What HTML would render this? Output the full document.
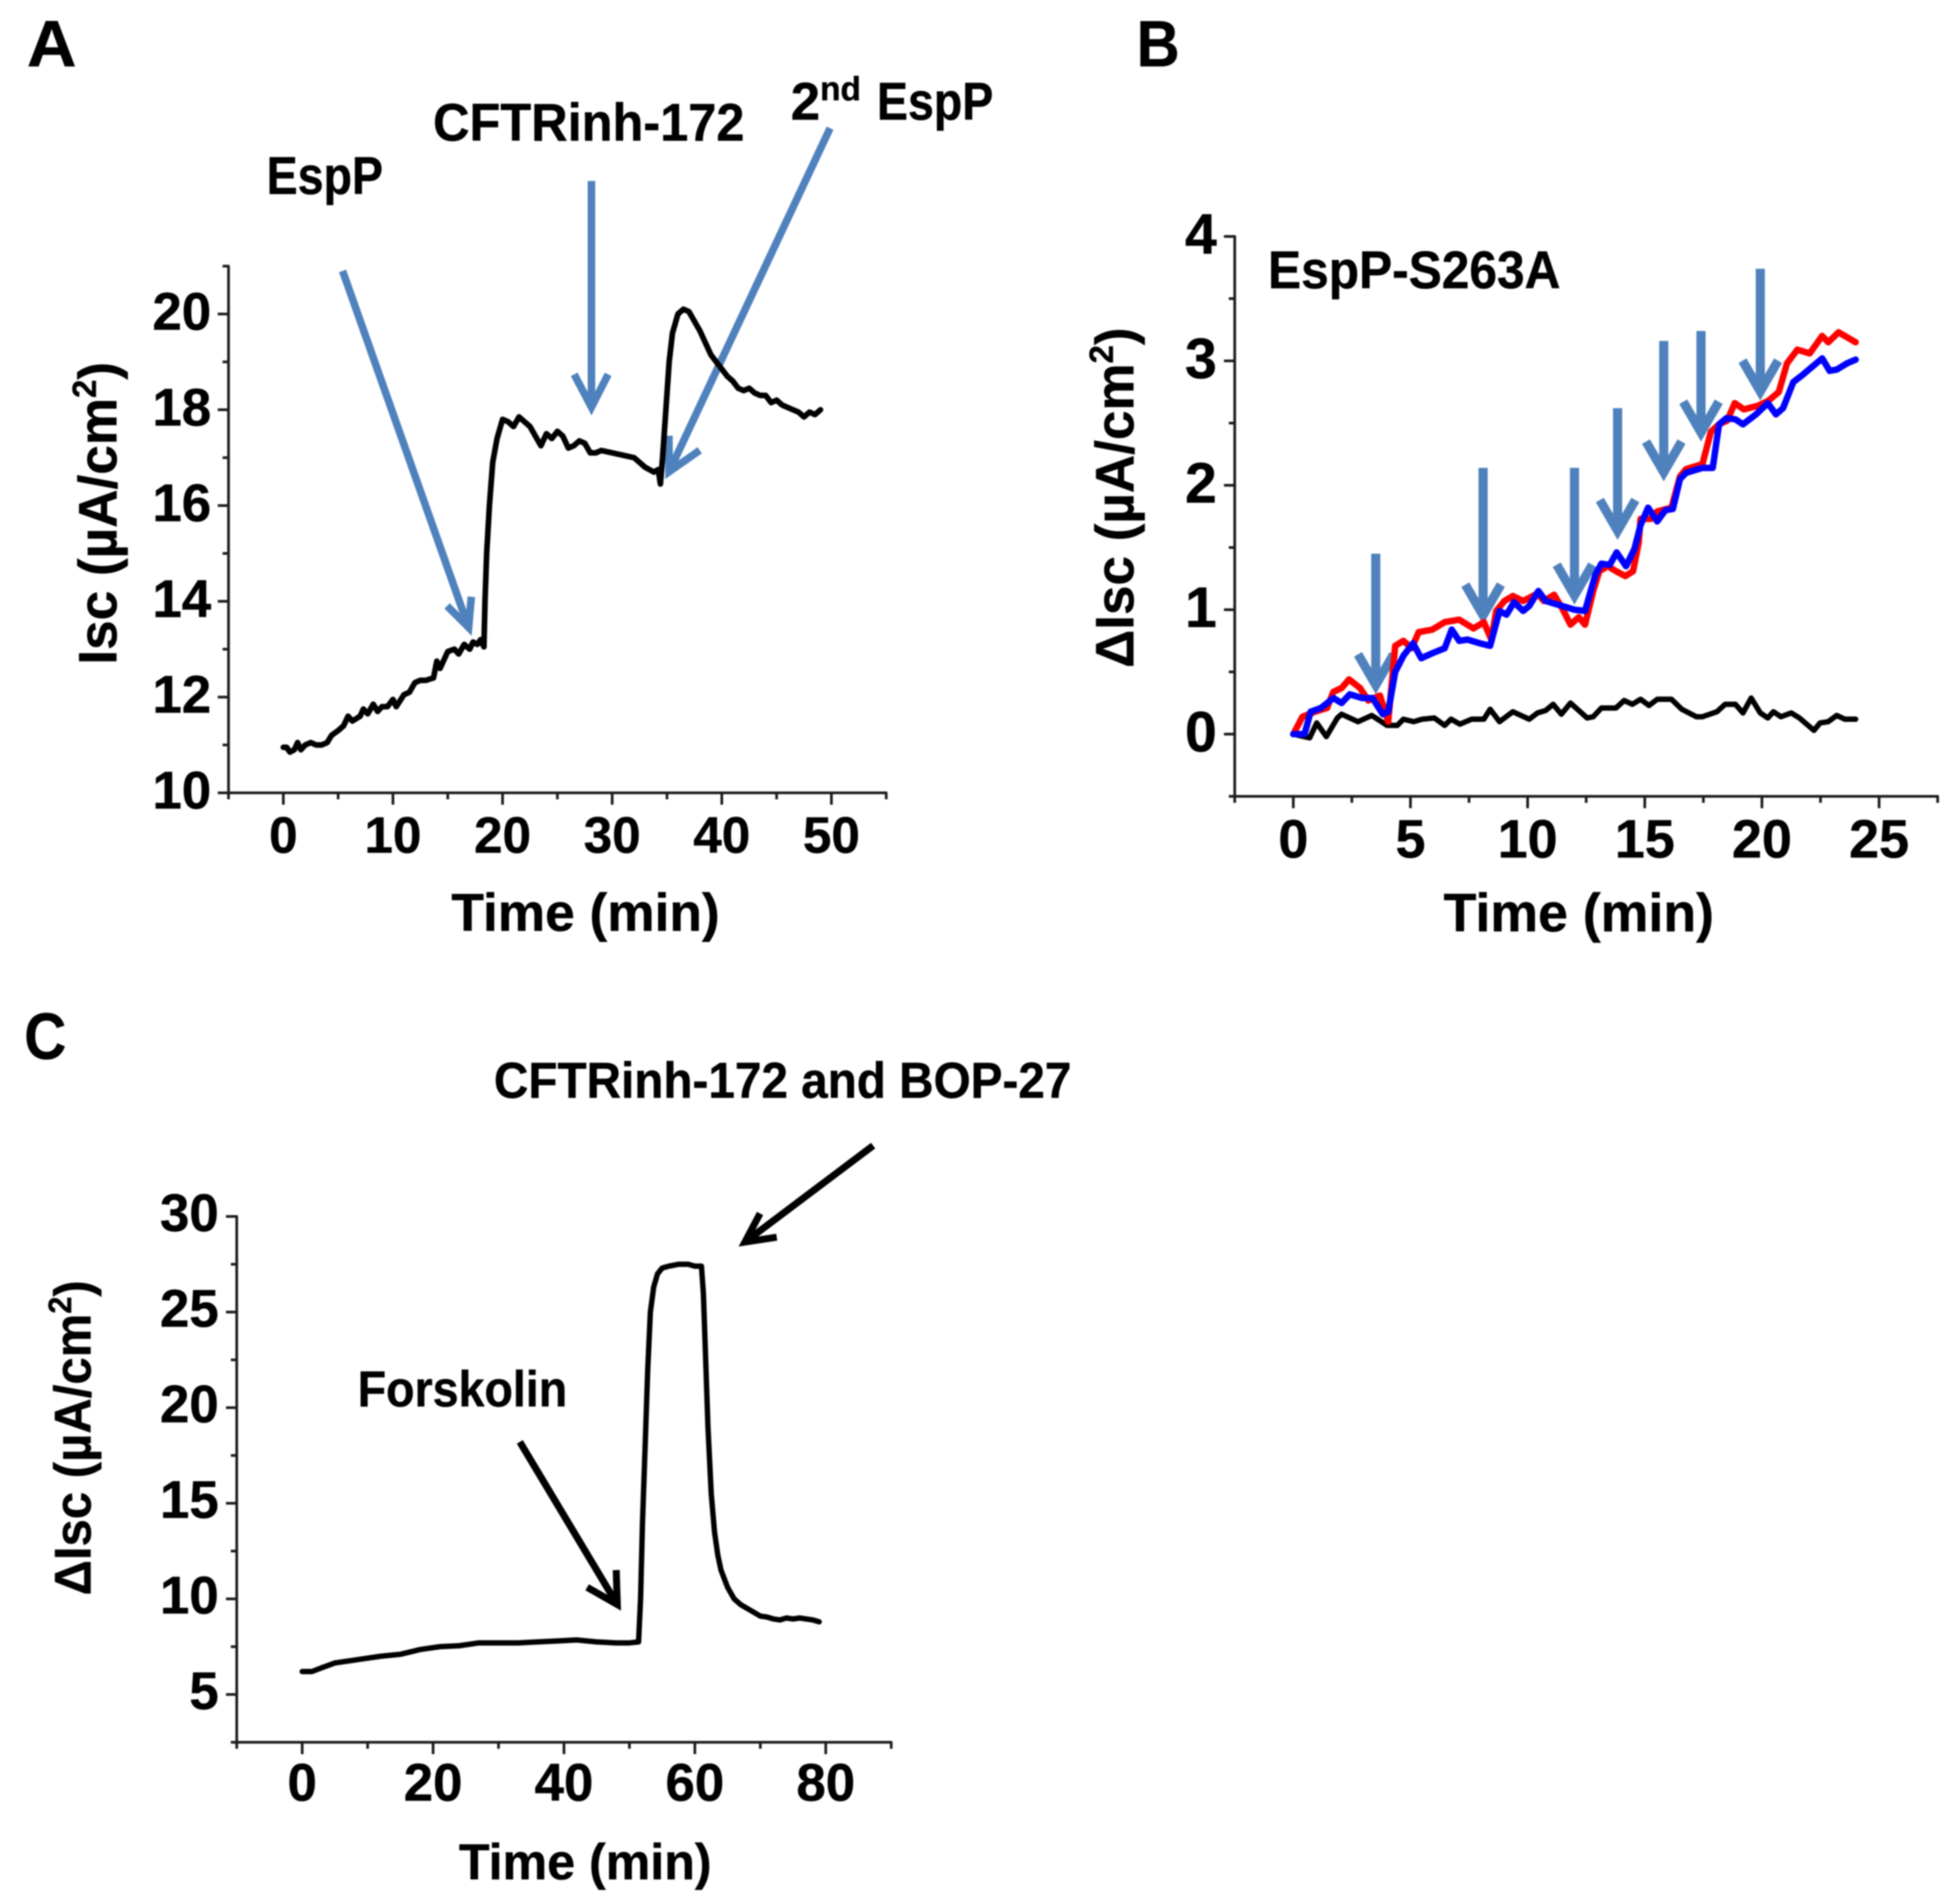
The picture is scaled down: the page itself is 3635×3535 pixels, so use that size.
<!DOCTYPE html>
<html lang="en">
<head>
<meta charset="utf-8">
<title>Isc time-course panels A, B and C</title>
<style>
html,body{margin:0;padding:0;background:#fff;width:3635px;height:3535px;overflow:hidden}
svg{display:block;filter:blur(1.3px)}
text{font-family:"Liberation Sans",sans-serif;font-weight:bold;fill:#000;stroke:#000;stroke-width:0.8px}
</style>
</head>
<body>
<svg id="figure" xmlns="http://www.w3.org/2000/svg" width="3635" height="3535" viewBox="0 0 3635 3535">
  <rect x="0" y="0" width="3635" height="3535" fill="#ffffff"/>

  <!-- Panel A -->
  <g id="panelA">
    <text x="50" y="123" font-size="122" textLength="92" lengthAdjust="spacingAndGlyphs">A</text>
    <text x="495" y="360" font-size="98" textLength="216" lengthAdjust="spacingAndGlyphs">EspP</text>
    <text x="804" y="261" font-size="98" textLength="578" lengthAdjust="spacingAndGlyphs">CFTRinh-172</text>
    <text x="1468" y="222" font-size="98">2<tspan font-size="62" dy="-36">nd</tspan><tspan x="1628" dy="36" textLength="216" lengthAdjust="spacingAndGlyphs">EspP</tspan></text>
    <path d="M636 503L870 1165M830 1125L870 1165L875 1108" fill="none" stroke="#4f81bd" stroke-width="14"/>
    <path d="M1098 336L1098 756M1066 695L1098 756L1129 695" fill="none" stroke="#4f81bd" stroke-width="14"/>
    <path d="M1541 238L1242 876M1242 809L1242 876L1299 836" fill="none" stroke="#4f81bd" stroke-width="14"/>
    <text transform="translate(216 1234) rotate(-90)" font-size="100" textLength="562" lengthAdjust="spacingAndGlyphs">Isc (µA/cm<tspan font-size="62" dy="-38">2</tspan><tspan dy="38">)</tspan></text>
    <text x="838" y="1728" font-size="98" textLength="498" lengthAdjust="spacingAndGlyphs">Time (min)</text>
  </g>

  <!-- Panel B -->
  <g id="panelB">
    <text x="2110" y="123" font-size="122" textLength="80" lengthAdjust="spacingAndGlyphs">B</text>
    <text x="2354" y="535" font-size="98" textLength="543" lengthAdjust="spacingAndGlyphs">EspP-S263A</text>
    <text transform="translate(2104 1240) rotate(-90)" font-size="100" textLength="632" lengthAdjust="spacingAndGlyphs">ΔIsc (µA/cm<tspan font-size="62" dy="-38">2</tspan><tspan dy="38">)</tspan></text>
    <text x="2680" y="1729" font-size="100" textLength="502" lengthAdjust="spacingAndGlyphs">Time (min)</text>
  </g>

  <!-- Panel C -->
  <g id="panelC">
    <text x="45" y="1966" font-size="122" textLength="78" lengthAdjust="spacingAndGlyphs">C</text>
    <text x="917" y="2038" font-size="94" textLength="1072" lengthAdjust="spacingAndGlyphs">CFTRinh-172 and BOP-27</text>
    <path d="M1621 2127L1383 2306M1411 2253L1383 2306L1442 2297" fill="none" stroke="#000" stroke-width="13"/>
    <text x="664" y="2611" font-size="94" textLength="389" lengthAdjust="spacingAndGlyphs">Forskolin</text>
    <path d="M965 2677L1146 2979M1144 2915L1146 2979L1090 2947" fill="none" stroke="#000" stroke-width="13"/>
    <text transform="translate(168 2962) rotate(-90)" font-size="96" textLength="585" lengthAdjust="spacingAndGlyphs">ΔIsc (µA/cm<tspan font-size="60" dy="-36">2</tspan><tspan dy="36">)</tspan></text>
    <text x="852" y="3489" font-size="94" textLength="469" lengthAdjust="spacingAndGlyphs">Time (min)</text>
  </g>
</svg>

<script>
// ---------- Panel A data ----------
const aTimes = [0,0.3,0.6,1,1.3,1.6,2,2.5,3,3.5,4,4.4,5,5.5,5.9,6.3,7,7.3,7.7,8.2,8.6,9,9.5,10,10.3,11,11.5,12,12.5,13,13.7,14,14.3,14.7,15,15.6,16,16.5,17,17.3,17.7,18,18.3,18.4,18.55,18.8,19.1,19.5,20,20.5,21,21.5,22,22.5,23,23.5,24,24.5,25,25.5,26,26.5,27,27.5,28,28.5,29,30,31,32,33,33.8,34.2,34.4,34.6,34.9,35.2,35.5,36,36.5,37,37.5,38,38.5,39,39.5,40,40.5,41,41.5,42,42.5,43,43.5,44,44.5,45,45.5,46,46.5,47,47.5,48,48.5,49];
const aIsc = [10.95,10.95,10.85,10.9,11.05,10.9,11,11.05,11,11,11.05,11.2,11.3,11.4,11.6,11.5,11.6,11.75,11.65,11.85,11.7,11.8,11.8,11.95,11.8,12.05,12.1,12.3,12.35,12.35,12.4,12.75,12.6,12.8,12.95,13,12.9,13.1,13,13.15,13.1,13.2,13.05,14,15,16,16.9,17.4,17.8,17.75,17.65,17.85,17.75,17.65,17.45,17.25,17.5,17.4,17.55,17.45,17.2,17.25,17.35,17.3,17.1,17.1,17.15,17.1,17.05,17,16.8,16.7,16.75,16.45,17,18,19,19.6,20,20.1,20.05,19.85,19.65,19.4,19.15,19,18.85,18.7,18.6,18.45,18.4,18.45,18.35,18.3,18.3,18.15,18.2,18.1,18.05,18,17.95,17.85,17.95,17.9,18];
const aXMajor = [0,10,20,30,40,50];
const aXMinor = [-5,5,15,25,35,45,55];
const aYMajor = [10,12,14,16,18,20];
const aYMinor = [11,13,15,17,19,21];

// ---------- Panel B data ----------
const bBlueTimes = [0,0.48,0.74,1.18,1.71,2.06,2.41,2.94,3.38,3.82,4.05,4.35,4.7,5.11,5.46,5.93,6.46,6.76,7.08,7.43,7.96,8.4,8.8,9.1,9.42,9.81,10.07,10.46,10.77,11.48,12,12.45,12.89,13.15,13.5,13.8,14.2,14.56,14.82,15.14,15.53,15.88,16.2,16.5,16.76,17.46,17.9,18.17,18.49,18.87,19.19,19.75,20.25,20.6,20.9,21.34,21.69,22.57,22.89,23.19,23.63,24];
const bBlueValues = [0,0,0.18,0.21,0.29,0.25,0.32,0.29,0.29,0.16,0.18,0.5,0.63,0.73,0.61,0.65,0.69,0.84,0.75,0.76,0.73,0.71,0.99,0.96,1.06,0.99,1.03,1.15,1.07,1.03,1,0.99,1.28,1.37,1.36,1.46,1.35,1.49,1.68,1.82,1.71,1.8,1.81,2.05,2.1,2.14,2.14,2.49,2.54,2.53,2.49,2.57,2.66,2.57,2.62,2.83,2.88,3.02,2.92,2.93,2.98,3.01];
const bRedTimes = [0,0.39,0.92,1.44,1.71,2.06,2.38,2.85,3.2,3.7,4.05,4.35,4.7,5.05,5.35,5.93,6.46,7.08,7.69,8.13,8.45,8.66,9.01,9.37,9.81,10.42,10.69,11.13,11.48,11.83,12.18,12.45,12.8,13.06,13.42,13.77,14.17,14.5,14.74,14.82,15.26,15.53,16.14,16.5,16.76,17.46,17.82,18.17,18.52,18.84,19.23,19.84,20.28,20.72,21.07,21.51,22.04,22.57,22.83,23.27,24];
const bRedValues = [0,0.14,0.18,0.21,0.34,0.37,0.44,0.37,0.27,0.31,0.1,0.71,0.75,0.69,0.82,0.84,0.9,0.92,0.85,0.9,0.76,0.99,1.07,1.11,1.07,1.13,1.07,1.12,1.01,0.88,0.94,0.88,1.15,1.31,1.35,1.31,1.27,1.31,1.54,1.73,1.73,1.79,1.82,2.07,2.13,2.17,2.43,2.49,2.52,2.66,2.61,2.64,2.68,2.75,2.98,3.09,3.06,3.2,3.15,3.23,3.15];
const bBlackTimes = [0,0.7,1,1.41,1.88,2.06,2.76,3.35,4,4.44,4.7,5.14,5.49,6.02,6.46,6.73,7.11,7.61,8.13,8.4,8.8,9.37,10.07,10.42,10.77,11.09,11.44,11.83,12.54,12.8,13.15,13.77,14.12,14.47,14.82,15.18,15.53,16.14,16.58,17.2,17.46,18.08,18.43,18.87,19.19,19.54,19.93,20.25,20.49,20.81,21.25,21.6,22.22,22.48,22.83,23.19,23.54,24];
const bBlackValues = [0,-0.03,0.09,-0.02,0.13,0.16,0.1,0.15,0.07,0.07,0.12,0.1,0.12,0.13,0.07,0.12,0.08,0.12,0.12,0.2,0.1,0.18,0.12,0.17,0.19,0.24,0.16,0.25,0.13,0.14,0.21,0.21,0.27,0.24,0.28,0.23,0.28,0.28,0.2,0.14,0.14,0.18,0.24,0.24,0.17,0.29,0.17,0.13,0.18,0.14,0.17,0.13,0.03,0.09,0.1,0.15,0.12,0.12];
const bArrowTimes = [3.52,8.1,12,13.84,15.81,17.4,19.93];
const bArrowTips = [0.36,0.92,1.08,1.6,2.07,2.39,2.72];
const bArrowTails = [1.45,2.14,2.14,2.62,3.16,3.24,3.74];
const bXMajor = [0,5,10,15,20,25];
const bXMinor = [-2.5,2.5,7.5,12.5,17.5,22.5,27.5];
const bYMajor = [0,1,2,3,4];
const bYMinor = [-0.5,0.5,1.5,2.5,3.5];

// ---------- Panel C data ----------
const cTimes = [0,1.5,3,5,7,9,12,15,18,21,24,27,30,33,36,39,42,45,48,50,51.4,51.7,52,52.4,52.8,53.2,53.7,54.3,55,56,57.5,59,60,61,61.3,61.7,62,62.5,63,63.5,64,65,66,67,68,69,70,71,72,73,74,75,76,77,78,79];
const cValues = [6.2,6.2,6.4,6.65,6.75,6.85,7,7.1,7.35,7.5,7.55,7.7,7.7,7.7,7.75,7.8,7.85,7.75,7.7,7.7,7.75,10,14,18,22,25,26.3,27,27.3,27.4,27.5,27.5,27.4,27.4,26,22,19,15.5,13.5,12.3,11.5,10.6,10,9.7,9.5,9.3,9.1,9.05,8.95,8.9,9,8.95,9,8.95,8.9,8.8];
const cXMajor = [0,20,40,60,80];
const cXMinor = [-10,10,30,50,70,90];
const cYMajor = [5,10,15,20,25,30];
const cYMinor = [2.5,7.5,12.5,17.5,22.5,27.5];

// ---------- Scales ----------
const xA = t => 526 + t * 20.35;
const yA = v => 1472 - (v - 10) * 88.9;
const xB = t => 2401 + t * 43.5;
const yB = v => 1363 - v * 231;
const xC = t => 561 + t * 12.15;
const yC = v => 3146 - (v - 5) * 35.5;

const NS = 'http://www.w3.org/2000/svg';
const AXIS_COLOR = '#1c1c1c';

function makeLine(parent, x1, y1, x2, y2, width, color) {
  const el = document.createElementNS(NS, 'line');
  el.setAttribute('x1', x1);
  el.setAttribute('y1', y1);
  el.setAttribute('x2', x2);
  el.setAttribute('y2', y2);
  el.setAttribute('stroke', color);
  el.setAttribute('stroke-width', width);
  parent.appendChild(el);
  return el;
}

function makeText(parent, x, y, size, anchor, content) {
  const el = document.createElementNS(NS, 'text');
  el.setAttribute('x', x);
  el.setAttribute('y', y);
  el.setAttribute('font-size', size);
  el.setAttribute('text-anchor', anchor);
  el.textContent = content;
  parent.appendChild(el);
  return el;
}

function makeSeries(parent, xs, ys, sx, sy, width, color) {
  const el = document.createElementNS(NS, 'polyline');
  el.setAttribute('points', xs.map((t, i) => sx(t).toFixed(1) + ',' + sy(ys[i]).toFixed(1)).join(' '));
  el.setAttribute('fill', 'none');
  el.setAttribute('stroke', color);
  el.setAttribute('stroke-width', width);
  el.setAttribute('stroke-linejoin', 'round');
  el.setAttribute('stroke-linecap', 'round');
  parent.appendChild(el);
  return el;
}

function drawAxes(parent, suffix, sx, sy, xMajor, xMinor, yMajor, yMinor, opts) {
  const allX = xMajor.concat(xMinor);
  const allY = yMajor.concat(yMinor);
  const x0 = sx(Math.min(...allX));
  const x1 = sx(Math.max(...allX));
  const y0 = sy(Math.min(...allY));
  const y1 = sy(Math.max(...allY));

  const xAxis = makeLine(parent, x0 - 2, y0, x1 + 2, y0, 5, AXIS_COLOR);
  
  

  const yAxis = makeLine(parent, x0, y0 + 2, x0, y1 - 2, 5, AXIS_COLOR);
  
  

  xMajor.forEach(function (t) {
    const tick = makeLine(parent, sx(t), y0, sx(t), y0 + 22, 5, AXIS_COLOR);
    
    
    const label = makeText(parent, sx(t), opts.xLabelY, opts.xSize, 'middle', String(t));
    
    
  });
  xMinor.forEach(function (t) {
    const tick = makeLine(parent, sx(t), y0, sx(t), y0 + 12, 5, AXIS_COLOR);
    
    
  });
  yMajor.forEach(function (v) {
    const tick = makeLine(parent, x0 - 20, sy(v), x0, sy(v), 5, AXIS_COLOR);
    
    
    const label = makeText(parent, opts.yLabelX, sy(v) + opts.yLabelDy, opts.ySize, 'end', String(v));
    
    
  });
  yMinor.forEach(function (v) {
    const tick = makeLine(parent, x0 - 11, sy(v), x0, sy(v), 5, AXIS_COLOR);
    
    
  });
}

const groupA = document.getElementById('panelA');
const groupB = document.getElementById('panelB');
const groupC = document.getElementById('panelC');

// ---------- Panel A ----------
drawAxes(groupA, 'a', xA, yA, aXMajor, aXMinor, aYMajor, aYMinor,
  { xLabelY: 1583, xSize: 95, yLabelX: 392, yLabelDy: 29, ySize: 98 });
const traceA = makeSeries(groupA, aTimes, aIsc, xA, yA, 10.5, '#000000');



// ---------- Panel B ----------
drawAxes(groupB, 'b', xB, yB, bXMajor, bXMinor, bYMajor, bYMinor,
  { xLabelY: 1592, xSize: 100, yLabelX: 2259, yLabelDy: 32, ySize: 106 });

bArrowTimes.forEach(function (t, i) {
  const px = xB(t);
  const tipY = yB(bArrowTips[i]);
  const tailY = yB(bArrowTails[i]);
  const arrow = document.createElementNS(NS, 'path');
  arrow.setAttribute('d', 'M' + px + ' ' + tailY + 'L' + px + ' ' + (tipY - 8) +
    'M' + (px - 33) + ' ' + (tipY - 65) + 'L' + px + ' ' + (tipY - 8) + 'L' + (px + 33) + ' ' + (tipY - 65));
  arrow.setAttribute('fill', 'none');
  arrow.setAttribute('stroke', '#4f81bd');
  arrow.setAttribute('stroke-width', '17');
  groupB.appendChild(arrow);
  
  
});

const blackB = makeSeries(groupB, bBlackTimes, bBlackValues, xB, yB, 10, '#000000');


const redB = makeSeries(groupB, bRedTimes, bRedValues, xB, yB, 12, '#ff0000');


const blueB = makeSeries(groupB, bBlueTimes, bBlueValues, xB, yB, 12, '#0000ff');



// ---------- Panel C ----------
drawAxes(groupC, 'c', xC, yC, cXMajor, cXMinor, cYMajor, cYMinor,
  { xLabelY: 3343, xSize: 98, yLabelX: 406, yLabelDy: 27, ySize: 98 });
const traceC = makeSeries(groupC, cTimes, cValues, xC, yC, 10, '#000000');


</script>
</body>
</html>
